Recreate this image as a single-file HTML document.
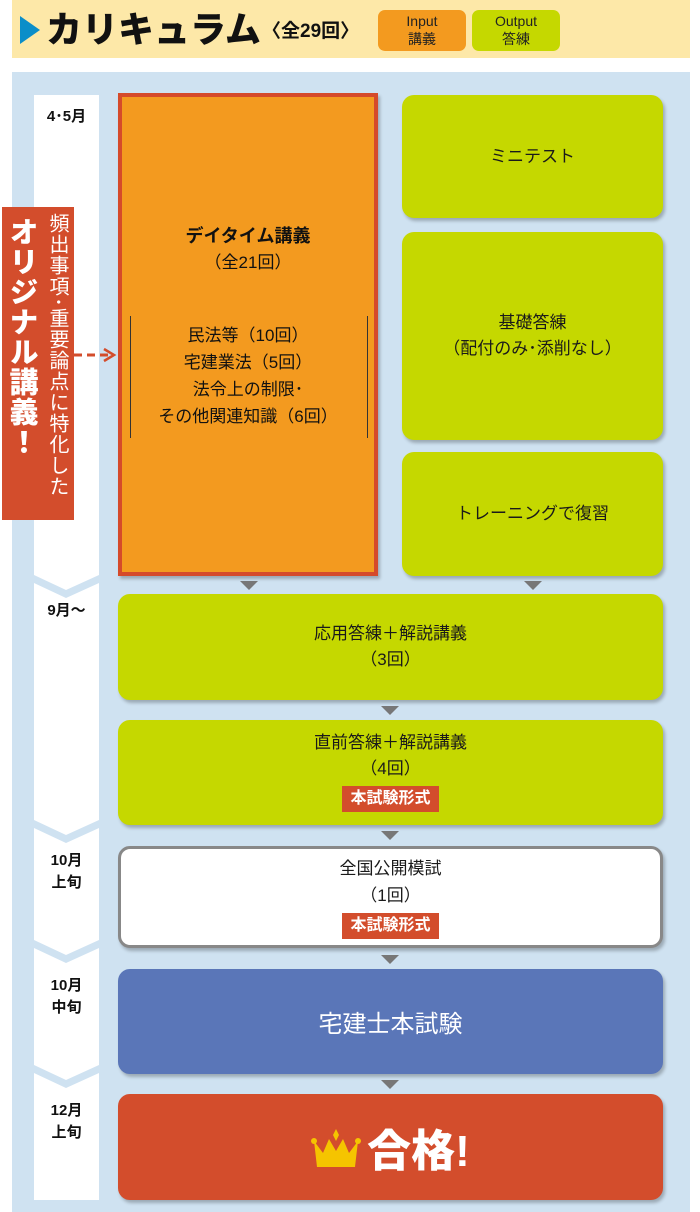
<!DOCTYPE html>
<html><head><meta charset="utf-8"><style>
body{margin:0;width:700px;height:1212px;background:#fff;position:relative;font-family:"Liberation Sans","Noto Sans CJK JP",sans-serif;overflow:hidden}
.a{position:absolute}
.box{position:absolute;border-radius:12px;display:flex;flex-direction:column;align-items:center;justify-content:center;text-align:center;color:#1a1a1a;box-shadow:2px 3px 3px rgba(0,0,0,.25)}
.g{background:#c5d800;font-size:17px;line-height:26px}
.tag{background:#d34d2c;color:#fff;font-weight:bold;font-size:16px;padding:0 8px;line-height:26px;margin-top:4px}
.tri{position:absolute;width:0;height:0;border-left:9px solid transparent;border-right:9px solid transparent;border-top:9px solid #777}
.mo{position:absolute;left:34px;width:65px;text-align:center;font-weight:bold;font-size:15px;line-height:22px;color:#111}
</style></head><body>
<div class="a" style="left:12px;top:0;width:678px;height:58px;background:#fde8a8"></div>
<div class="a" style="left:20px;top:16px;width:0;height:0;border-top:14px solid transparent;border-bottom:14px solid transparent;border-left:20px solid #0b8ec9"></div>
<div class="a" style="left:46px;top:8px;font-size:36px;font-weight:900;line-height:44px;color:#111">カリキュラム</div>
<div class="a" style="left:262px;top:16px;font-size:19px;font-weight:bold;color:#111">〈全29回〉</div>
<div class="a" style="left:378px;top:10px;width:88px;height:41px;background:#f39a1f;border-radius:7px;text-align:center;font-size:14px;line-height:18px;padding-top:2px;box-sizing:border-box;color:#222">Input<br>講義</div>
<div class="a" style="left:472px;top:10px;width:88px;height:41px;background:#c5d800;border-radius:7px;text-align:center;font-size:14px;line-height:18px;padding-top:2px;box-sizing:border-box;color:#222">Output<br>答練</div>
<div class="a" style="left:12px;top:72px;width:678px;height:1140px;background:#cfe2f1"></div>
<svg class="a" style="left:0;top:0" width="700" height="1212">
<g fill="#fff">
<polygon points="34,95 99,95 99,575 66,590 34,575"/>
<polygon points="34,583 66,598 99,583 99,820 66,835 34,820"/>
<polygon points="34,828 66,843 99,828 99,940 66,955 34,940"/>
<polygon points="34,948 66,963 99,948 99,1065 66,1080 34,1065"/>
<polygon points="34,1073 66,1088 99,1073 99,1200 34,1200"/>
</g>
<line x1="74" y1="355" x2="112" y2="355" stroke="#d34d2c" stroke-width="3" stroke-dasharray="8,5"/>
<polyline points="104,349 114,355 104,361" fill="none" stroke="#d34d2c" stroke-width="2.5"/>
</svg>
<div class="mo" style="top:106px">4･5月</div>
<div class="mo" style="top:600px">9月～</div>
<div class="mo" style="top:850px">10月<br>上旬</div>
<div class="mo" style="top:975px">10月<br>中旬</div>
<div class="mo" style="top:1100px">12月<br>上旬</div>
<div class="a" style="left:2px;top:207px;width:72px;height:313px;background:#d34d2c;color:#fff">
<div class="a" style="left:2px;top:10px;writing-mode:vertical-rl;font-size:29px;font-weight:900;line-height:34px;letter-spacing:1px">オリジナル講義！</div>
<div class="a" style="left:42px;top:6px;writing-mode:vertical-rl;font-size:20px;line-height:26px;letter-spacing:1px">頻出事項･重要論点に特化した</div>
</div>
<div class="a" style="left:118px;top:93px;width:260px;height:483px;background:#f39a1f;border:4px solid #d54a2a;box-sizing:border-box;box-shadow:2px 3px 3px rgba(0,0,0,.25)"></div>
<div class="a" style="left:118px;top:222px;width:260px;text-align:center;color:#111">
<div style="font-size:18px;font-weight:bold;line-height:28px">デイタイム講義</div>
<div style="font-size:17px;line-height:26px">（全21回）</div></div>
<div class="a" style="left:130px;top:316px;width:236px;height:122px;border-left:1px solid #333;border-right:1px solid #333"></div>
<div class="a" style="left:118px;top:322px;width:260px;text-align:center;font-size:17px;line-height:27px;color:#111">民法等（10回）<br>宅建業法（5回）<br>法令上の制限･<br>その他関連知識（6回）</div>
<div class="box g" style="left:402px;top:95px;width:261px;height:123px">ミニテスト</div>
<div class="box g" style="left:402px;top:232px;width:261px;height:208px">基礎答練<br>（配付のみ･添削なし）</div>
<div class="box g" style="left:402px;top:452px;width:261px;height:124px">トレーニングで復習</div>
<div class="tri" style="left:240px;top:581px"></div>
<div class="tri" style="left:524px;top:581px"></div>
<div class="box g" style="left:118px;top:594px;width:545px;height:106px">応用答練＋解説講義<br>（3回）</div>
<div class="tri" style="left:381px;top:706px"></div>
<div class="box g" style="left:118px;top:720px;width:545px;height:105px;justify-content:flex-start;padding-top:10px;box-sizing:border-box">直前答練＋解説講義<br>（4回）<span class="tag">本試験形式</span></div>
<div class="tri" style="left:381px;top:831px"></div>
<div class="box" style="left:118px;top:846px;width:545px;height:102px;background:#fff;border:3px solid #888;box-sizing:border-box;font-size:17px;line-height:27px">全国公開模試<br>（1回）<span class="tag">本試験形式</span></div>
<div class="tri" style="left:381px;top:955px"></div>
<div class="box" style="left:118px;top:969px;width:545px;height:105px;background:#5a76b8;color:#fff;font-size:24px">宅建士本試験</div>
<div class="tri" style="left:381px;top:1080px"></div>
<div class="box" style="left:118px;top:1094px;width:545px;height:106px;background:#d34d2c;color:#fff;font-size:44px;font-weight:900;flex-direction:row">
<svg width="50" height="42" viewBox="0 0 50 42" style="margin-right:6px;margin-top:6px"><polygon points="3,12 12,24 18,10 25,22 32,10 38,24 47,12 44,38 6,38" fill="#f5c400"/><polygon points="25,0 28,6 25,12 22,6" fill="#f5c400"/><circle cx="3" cy="12" r="3" fill="#f5c400"/><circle cx="47" cy="12" r="3" fill="#f5c400"/></svg>合格!</div>
</body></html>
